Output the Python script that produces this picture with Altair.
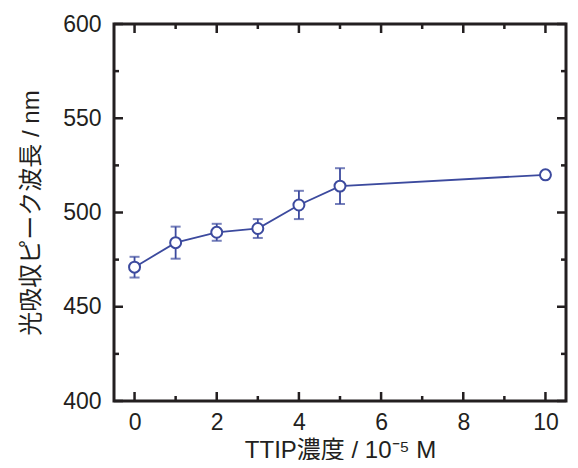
import altair as alt
import pandas as pd

# data
conc = [0, 1, 2, 3, 4, 5, 10]
peak = [471, 484, 489.5, 491.5, 504, 514, 520]
err = [5.5, 8.5, 4.5, 5.0, 7.5, 9.5, 0.0]

x_major = [0, 2, 4, 6, 8, 10]
x_minor = [1, 3, 5, 7, 9]
y_major = [400, 450, 500, 550, 600]
y_minor = [425, 475, 525, 575]

x_title = "TTIP濃度 / 10⁻⁵ M"
y_title = "光吸収ピーク波長 / nm"

df = pd.DataFrame({
    "c": conc,
    "p": peak,
    "lo": [p - e for p, e in zip(peak, err)],
    "hi": [p + e for p, e in zip(peak, err)],
})

INK = "#231f20"
BLUE = "#3c4a9e"
FONT = "Liberation Sans, Arial, Noto Sans CJK JP, sans-serif"
W, H = 452, 377
MAJ = 9
MIN = 5
TW = 2.5

xs = alt.Scale(domain=[-0.5, 10.5], nice=False, zero=False)
ys = alt.Scale(domain=[400, 600], nice=False, zero=False)

base = alt.Chart(df)

line = base.mark_line(color=BLUE, strokeWidth=1.8).encode(
    x=alt.X("c:Q", scale=xs, title=x_title,
            axis=alt.Axis(orient="bottom", values=x_major, ticks=False, tickSize=0,
                          domain=False, grid=False, labelPadding=10, titlePadding=4)),
    y=alt.Y("p:Q", scale=ys, title=y_title,
            axis=alt.Axis(orient="left", values=y_major, ticks=False, tickSize=0,
                          domain=False, grid=False, labelPadding=13, titlePadding=19)),
)

bars = base.mark_rule(color=BLUE, strokeWidth=1.8).encode(
    x=alt.X("c:Q", scale=xs, axis=None),
    y=alt.Y("lo:Q", scale=ys, axis=None),
    y2="hi:Q",
)

cap_lo = base.mark_tick(color=BLUE, orient="horizontal", size=10, thickness=2).encode(
    x=alt.X("c:Q", scale=xs, axis=None),
    y=alt.Y("lo:Q", scale=ys, axis=None),
)

cap_hi = base.mark_tick(color=BLUE, orient="horizontal", size=10, thickness=2).encode(
    x=alt.X("c:Q", scale=xs, axis=None),
    y=alt.Y("hi:Q", scale=ys, axis=None),
)

points = base.mark_point(filled=True, fill="white", stroke=BLUE, strokeWidth=2,
                         size=120, opacity=1).encode(
    x=alt.X("c:Q", scale=xs, axis=None),
    y=alt.Y("p:Q", scale=ys, axis=None),
)


# inward tick marks on all four sides of the frame
def xticks(values, length):
    src = alt.Chart(pd.DataFrame({"v": values}))
    enc = dict(x=alt.X("v:Q", scale=xs, axis=None))
    bottom = src.mark_rule(color=INK, strokeWidth=TW).encode(
        y=alt.value(H), y2=alt.value(H - length), **enc)
    top = src.mark_rule(color=INK, strokeWidth=TW).encode(
        y=alt.value(0), y2=alt.value(length), **enc)
    return [bottom, top]


def yticks(values, length):
    src = alt.Chart(pd.DataFrame({"v": values}))
    enc = dict(y=alt.Y("v:Q", scale=ys, axis=None))
    left = src.mark_rule(color=INK, strokeWidth=TW).encode(
        x=alt.value(0), x2=alt.value(length), **enc)
    right = src.mark_rule(color=INK, strokeWidth=TW).encode(
        x=alt.value(W), x2=alt.value(W - length), **enc)
    return [left, right]


ticks = (xticks(x_major, MAJ) + xticks(x_minor, MIN)
         + yticks(y_major, MAJ) + yticks(y_minor, MIN))

chart = alt.layer(line, *ticks, bars, cap_lo, cap_hi, points).resolve_axis(
    x="independent", y="independent"
).properties(
    width=W, height=H,
    background="white",
    autosize=alt.AutoSizeParams(type="none"),
    padding={"left": 106, "top": 16, "right": 4, "bottom": 59},
).configure_view(
    stroke=INK, strokeWidth=3
).configure_axis(
    labelFont=FONT, labelFontSize=23, labelColor=INK,
    titleFont=FONT, titleFontSize=24, titleColor=INK, titleFontWeight="normal",
)

chart.save("out.html", embed_options={"renderer": "svg", "actions": False})
